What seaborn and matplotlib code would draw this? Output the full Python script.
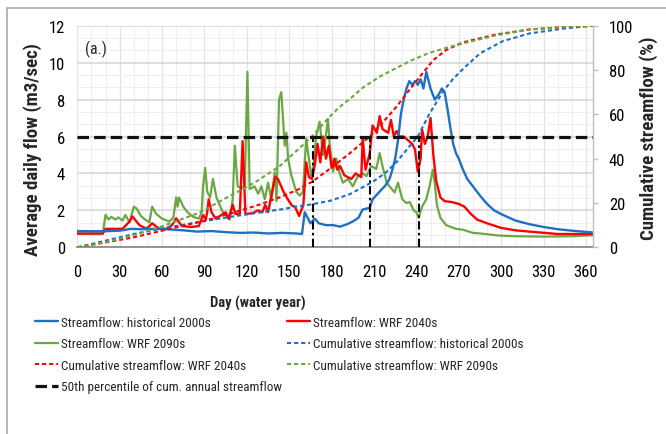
import matplotlib
matplotlib.use("Agg")
import matplotlib.pyplot as plt
import seaborn as sns
import pandas as pd
from matplotlib.ticker import MultipleLocator, AutoMinorLocator
from matplotlib.lines import Line2D
from matplotlib import font_manager

# ---------------- data ----------------
hist_days = [0, 10, 20, 30, 38, 45, 55, 65, 75, 85,
             95, 105, 115, 125, 135, 145, 155, 159, 161, 163,
             165, 168, 171, 176, 181, 186, 191, 195, 199, 202,
             205, 207, 209, 212, 215, 218, 221, 223, 225, 227,
             229, 231, 233, 235, 237, 239, 241, 243, 245, 247,
             250, 253, 256, 258, 260, 262, 264, 266, 268, 270,
             273, 276, 280, 285, 290, 295, 300, 310, 320, 330,
             340, 350, 365]
hist_flow = [0.88, 0.87, 0.87, 0.9, 1.0, 0.98, 1.0, 0.97, 0.92, 0.85,
             0.88, 0.82, 0.78, 0.8, 0.75, 0.78, 0.75, 0.72, 1.9, 1.6,
             1.3, 1.55, 1.3, 1.2, 1.2, 1.12, 1.25, 1.4, 1.6, 2.05,
             2.1, 2.15, 2.6, 2.85, 3.1, 3.34, 3.7, 4.2, 4.8, 5.8,
             7.2, 8.0, 8.6, 9.0, 8.8, 9.0, 8.8, 9.1, 8.6, 9.5,
             8.6, 8.0, 8.3, 8.6, 8.4, 7.5, 6.5, 5.6, 5.1, 4.8,
             4.2, 3.7, 3.3, 2.8, 2.35, 2.0, 1.8, 1.45, 1.25, 1.1,
             0.98, 0.9, 0.8]

w40_days = [0, 10, 18, 20, 26, 32, 37, 39, 44, 49,
            53, 58, 63, 67, 70, 74, 81, 86, 89, 91,
            92, 93, 95, 98, 100, 105, 107, 110, 112, 115,
            117, 119, 124, 128, 131, 133, 135, 140, 142, 146,
            149, 152, 154, 157, 160, 162, 164, 166, 168, 170,
            172, 174, 176, 178, 180, 182, 184, 186, 189, 194,
            197, 201, 202, 204, 207, 209, 212, 214, 216, 220,
            222, 224, 226, 228, 231, 234, 237, 239, 241, 243,
            244, 246, 248, 250, 252, 254, 257, 260, 265, 270,
            274, 278, 283, 290, 300, 310, 320, 340, 365]
w40_flow = [0.75, 0.75, 0.75, 1.0, 1.0, 1.0, 1.4, 1.67, 1.2, 1.0,
            1.3, 1.0, 1.0, 1.2, 1.57, 1.15, 1.1, 1.15, 1.75, 1.5,
            1.95, 2.6, 1.9, 1.55, 1.65, 1.9, 1.55, 2.3, 1.8, 1.8,
            5.75, 1.8, 1.85, 2.0, 1.9, 2.3, 1.9, 3.8, 3.7, 3.0,
            2.6, 2.25, 2.2, 1.7, 2.3, 4.6, 3.8, 3.7, 4.4, 5.6,
            4.6, 6.0, 4.8, 5.5, 4.3, 4.8, 4.2, 4.4, 3.9, 3.7,
            4.0, 3.8, 5.9, 4.2, 5.1, 6.6, 6.2, 7.1, 6.4, 6.2,
            6.9, 6.0, 6.3, 6.0, 6.0, 5.8, 5.6, 5.3, 4.1, 4.8,
            6.4, 5.6, 6.0, 7.0, 5.0, 3.6, 2.7, 2.5, 2.45, 2.35,
            2.2, 1.85, 1.5, 1.3, 1.05, 0.92, 0.85, 0.72, 0.72]

w90_days = [0, 10, 18, 20, 22, 24, 27, 29, 32, 34,
            37, 40, 42, 45, 48, 51, 53, 56, 60, 65,
            68, 70, 71, 72, 75, 78, 82, 86, 88, 89,
            90.5, 92, 94, 96, 98.5, 103, 108, 110, 111.5, 113.5,
            116, 118.5, 120.4, 122, 125.5, 128, 130.3, 132.7, 135, 137.4,
            139.7, 141, 142.8, 144.4, 146.8, 148, 149.2, 151.5, 155, 157.4,
            159.7, 162, 163.5, 165.6, 167, 169, 171.5, 173.9, 175.5, 177.4,
            178.6, 181, 183.3, 185.7, 188, 191.6, 195, 198.6, 202.2, 204.6,
            208, 211.6, 214, 216, 219, 221, 224.6, 227, 230, 232.8,
            235.4, 238, 240, 241.6, 244, 247, 249.3, 251.6, 253, 254.5,
            257, 261, 268, 273, 280, 285, 298, 310, 332, 350, 365]
w90_flow = [0.72, 0.72, 0.72, 1.76, 1.5, 1.65, 1.5, 1.62, 1.45, 1.75,
            1.35, 2.2, 2.1, 1.7, 1.5, 1.35, 2.2, 1.8, 1.55, 1.4,
            1.6, 2.7, 2.2, 2.7, 2.2, 1.9, 1.65, 1.55, 1.9, 3.3,
            4.3, 3.0, 2.7, 3.7, 2.7, 1.9, 1.5, 2.6, 5.5, 3.3,
            3.2, 3.3, 9.5, 3.15, 3.3, 2.9, 3.3, 2.6, 3.5, 2.6,
            4.06, 2.5, 8.0, 8.4, 5.5, 6.2, 4.8, 3.9, 3.0, 2.8,
            3.0, 5.9, 5.0, 3.9, 4.3, 6.0, 6.8, 5.0, 5.8, 6.95,
            5.6, 4.1, 4.8, 4.0, 3.5, 3.7, 3.3, 3.85, 4.0, 3.85,
            4.4, 4.24, 5.1, 4.4, 3.5, 3.3, 2.97, 3.5, 2.6, 2.4,
            2.45, 2.0, 1.9, 1.6, 2.2, 2.6, 3.3, 4.2, 3.5, 2.3,
            1.6, 1.2, 1.0, 0.95, 0.78, 0.75, 0.64, 0.6, 0.58, 0.6, 0.65]

cum_hist_days = [0, 20, 40, 60, 90, 110, 130, 146, 156, 165, 179, 193, 209,
                 218, 226, 235, 241, 249, 259, 266, 273, 285, 301, 320, 344, 365]
cum_hist_pct = [0, 3.0, 6.0, 8.5, 11.8, 13.9, 15.8, 17.3, 18.5, 19.3, 21, 24, 29.5,
                33.5, 38.5, 45.5, 50, 60, 70.5, 76, 80.5, 87.5, 93, 96.5, 98.7, 100]

cum_w40_days = [0, 20, 40, 60, 90, 110, 130, 143, 156, 166, 180, 193,
                207, 215, 226, 235, 245, 252, 261, 273, 296, 320, 345, 365]
cum_w40_pct = [0, 2.2, 4.5, 7.5, 12, 15.5, 19.5, 22.5, 26, 29.5, 36, 42.5,
               50, 55.5, 63.5, 71, 79, 84.5, 89, 92.5, 96, 98.3, 99.4, 100]

cum_w90_days = [0, 20, 40, 60, 86, 106, 125, 143, 156, 166, 178, 185,
                193, 202, 214, 226, 237, 249, 261, 273, 296, 320, 345, 365]
cum_w90_pct = [0, 2.3, 5.5, 9.5, 15.5, 22.5, 29, 36.5, 44, 50, 58.5, 63,
               67, 72, 77, 81, 84.5, 87.7, 90, 92, 95.6, 98.3, 99.4, 100]

p50_level = 50
p50_days = [166.5, 207, 241.5]   # WRF 2090s, WRF 2040s, historical 2000s

x_ticks = list(range(0, 361, 30))
flow_ticks = list(range(0, 13, 2))
pct_ticks = list(range(0, 101, 20))

labels = {
    "hist": "Streamflow: historical 2000s",
    "w40": "Streamflow: WRF 2040s",
    "w90": "Streamflow: WRF 2090s",
    "chist": "Cumulative streamflow: historical 2000s",
    "c40": "Cumulative streamflow: WRF 2040s",
    "c90": "Cumulative streamflow: WRF 2090s",
    "p50": "50th percentile of cum. annual streamflow",
}

# ---------------- style ----------------
sns.set_theme(style="white")
installed = {f.name for f in font_manager.fontManager.ttflist}
narrow = None
for cand in ['Liberation Sans Narrow', 'Roboto Condensed', 'DejaVu Sans Condensed',
             'Open Sans Condensed', 'Noto Sans Condensed']:
    if cand in installed:
        narrow = cand
        break
fams = ([narrow] if narrow else []) + ['Liberation Sans', 'DejaVu Sans']
plt.rcParams['font.family'] = fams
# width compensation when no narrow face is present
k = 1.0 if narrow in ('Liberation Sans Narrow', 'Roboto Condensed') else 0.86

BLUE = '#1f6fc6'
RED = '#ff0000'
GREEN = '#6aa842'

W, H = 666, 435
def fx(px):
    return px / W
def fy(py):
    return 1 - py / H

fig = plt.figure(figsize=(W / 100, H / 100), dpi=100)
fig.patch.set_facecolor('white')
L, R, T, B = 77.3, 593.0, 26.7, 248.3
ax = fig.add_axes([fx(L), fy(B), fx(R) - fx(L), fy(T) - fy(B)])
ax2 = ax.twinx()

# ---------------- primary: streamflow ----------------
df_hist = pd.DataFrame({"day": hist_days, "flow": hist_flow})
df_w40 = pd.DataFrame({"day": w40_days, "flow": w40_flow})
df_w90 = pd.DataFrame({"day": w90_days, "flow": w90_flow})

handles = {}
sns.lineplot(data=df_w90, x="day", y="flow", ax=ax, color=GREEN, lw=1.6,
             estimator=None, legend=False, label=labels["w90"])
handles["w90"] = ax.lines[-1]
sns.lineplot(data=df_w40, x="day", y="flow", ax=ax, color=RED, lw=1.7,
             estimator=None, legend=False, label=labels["w40"])
handles["w40"] = ax.lines[-1]
sns.lineplot(data=df_hist, x="day", y="flow", ax=ax, color=BLUE, lw=1.7,
             estimator=None, legend=False, label=labels["hist"])
handles["hist"] = ax.lines[-1]

# ---------------- secondary: cumulative ----------------
df_ch = pd.DataFrame({"day": cum_hist_days, "pct": cum_hist_pct})
df_c40 = pd.DataFrame({"day": cum_w40_days, "pct": cum_w40_pct})
df_c90 = pd.DataFrame({"day": cum_w90_days, "pct": cum_w90_pct})
dash = (0, (2.0, 1.4))
sns.lineplot(data=df_ch, x="day", y="pct", ax=ax2, color=BLUE, lw=1.5,
             linestyle=dash, estimator=None, legend=False, label=labels["chist"])
handles["chist"] = ax2.lines[-1]
sns.lineplot(data=df_c40, x="day", y="pct", ax=ax2, color=RED, lw=1.5,
             linestyle=dash, estimator=None, legend=False, label=labels["c40"])
handles["c40"] = ax2.lines[-1]
sns.lineplot(data=df_c90, x="day", y="pct", ax=ax2, color=GREEN, lw=1.5,
             linestyle=dash, estimator=None, legend=False, label=labels["c90"])
handles["c90"] = ax2.lines[-1]

ax2.vlines(p50_days, 0, p50_level, colors='black', lw=1.5,
           linestyles=[(0, (4, 1.6, 1.2, 1.6))])
handles["p50"] = ax2.axhline(p50_level, color='#111111', lw=2.3,
                             linestyle=(0, (3.6, 1.6)), label=labels["p50"])

for a in (ax, ax2):
    lg = a.get_legend()
    if lg is not None:
        lg.remove()

# ---------------- axes / grid ----------------
ax.set_xlim(0, 365)
ax.set_ylim(0, 12)
ax2.set_ylim(0, 100)
ax.set_xticks(x_ticks)
ax.set_yticks(flow_ticks)
ax2.set_yticks(pct_ticks)
ax.xaxis.set_minor_locator(MultipleLocator(10))
ax.yaxis.set_minor_locator(AutoMinorLocator(3))
ax.set_axisbelow(True)
ax.grid(which='major', axis='y', color='#d4d4d4', lw=1.1)
ax.grid(which='major', axis='x', color='#e2e2ea', lw=0.9)
ax.grid(which='minor', axis='both', color='#eeeef4', lw=0.7)
ax.set_xlabel("")
ax.set_ylabel("")
ax2.set_ylabel("")

tick_fs = 12 * (1.0 if k == 1.0 else 0.95)
ax.tick_params(axis='both', which='both', length=0, labelsize=tick_fs, colors='#000000')
ax.tick_params(axis='x', pad=12)
ax.tick_params(axis='y', pad=9)
ax2.tick_params(axis='y', which='major', length=3.5, width=1, color='#bfbfbf',
                labelsize=tick_fs, pad=8, labelcolor='#000000')

for s in ('top', 'right', 'left'):
    ax.spines[s].set_visible(False)
ax.spines['bottom'].set_color('#8c8c8c')
ax.spines['bottom'].set_linewidth(1.3)
for s in ('top', 'left', 'bottom'):
    ax2.spines[s].set_visible(False)
ax2.spines['right'].set_color('#bfbfbf')
ax2.spines['right'].set_linewidth(1.0)

# ---------------- texts ----------------
fig.text(fx(85), fy(49), "(a.)", fontsize=11.5 * (1 if k == 1 else 0.9), va='center', ha='left')
fig.text(fx(33), fy(150), "Average daily flow (m3/sec)", rotation=90,
         fontsize=13.6 * k, fontweight='bold', ha='center', va='center')
fig.text(fx(649), fy(138), "Cumulative streamflow (%)", rotation=90,
         fontsize=13.6 * k, fontweight='bold', ha='center', va='center')
fig.text(fx(258), fy(303), "Day (water year)", fontsize=10.5 * k,
         fontweight='bold', ha='center', va='center')

# ---------------- legends (two columns) ----------------
col1 = ["hist", "w90", "c40", "p50"]
col2 = ["w40", "chist", "c90"]
leg_fs = 9.5 * (1 if k == 1 else 0.84)
em = leg_fs * 100 / 72
leg_kw = dict(loc='upper left', frameon=False, fontsize=leg_fs,
              handlelength=23 / em, handletextpad=0.2,
              labelspacing=(21.2 - em * 1.12) / em + 0.15,
              borderaxespad=0, borderpad=0)
fig.legend([handles[k2] for k2 in col1], [labels[k2] for k2 in col1],
           bbox_to_anchor=(fx(35), fy(317)), **leg_kw)
fig.legend([handles[k2] for k2 in col2], [labels[k2] for k2 in col2],
           bbox_to_anchor=(fx(287), fy(317)), **leg_kw)

# ---------------- outer frame ----------------
fig.add_artist(Line2D([fx(7), 1], [fy(9), fy(9)], transform=fig.transFigure,
                      color='#aaaaaa', lw=1.2))
fig.add_artist(Line2D([fx(7), fx(7)], [fy(9), 0], transform=fig.transFigure,
                      color='#aaaaaa', lw=1.2))

fig.savefig("out.png", dpi=100, facecolor='white')
